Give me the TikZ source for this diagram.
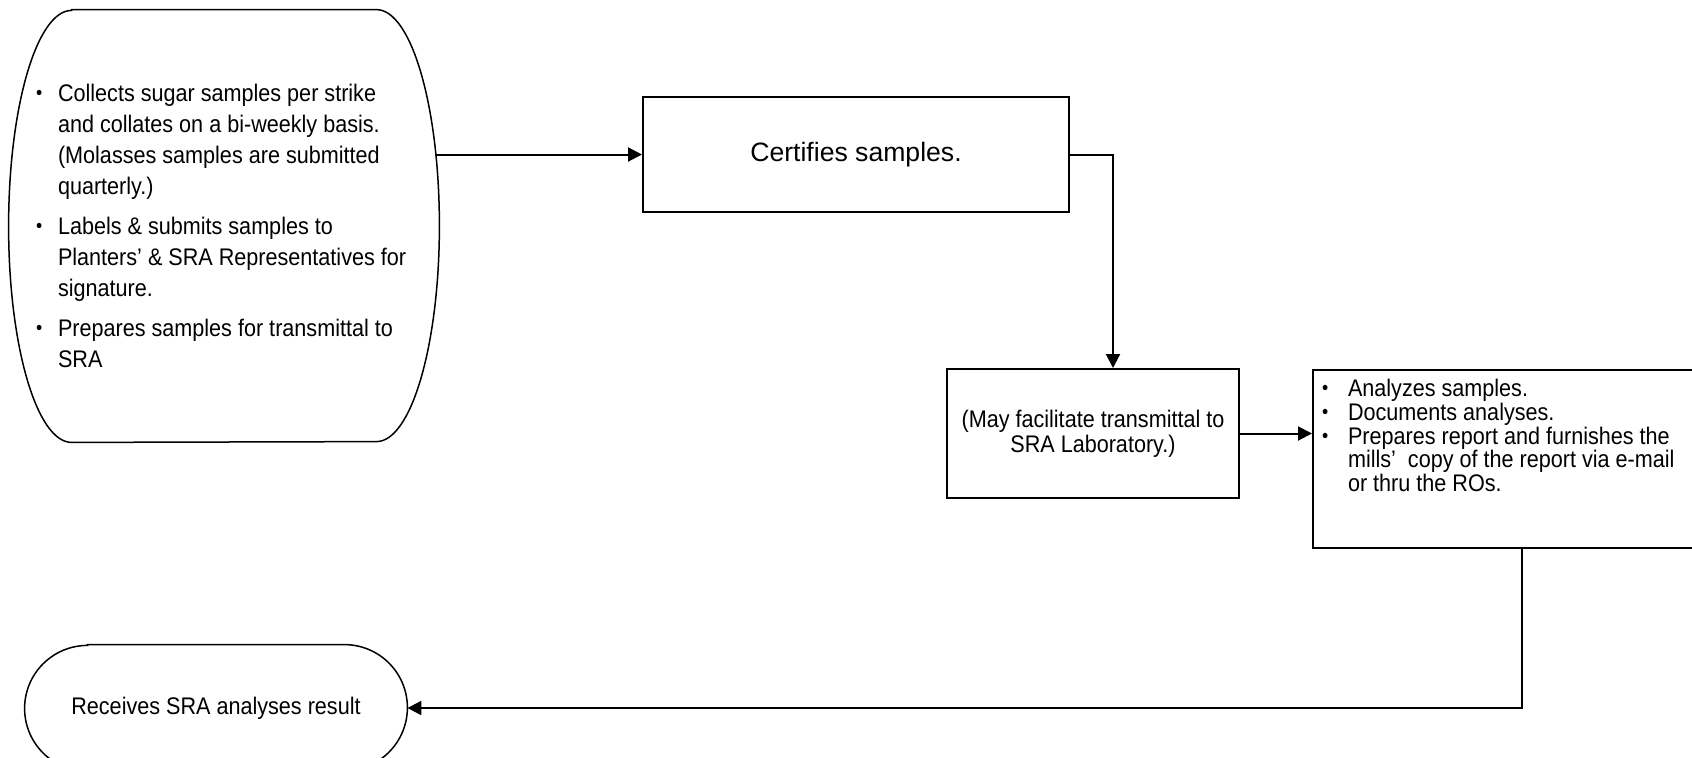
\documentclass[tikz,border=0pt]{standalone}
\usepackage{fontspec}
\usepackage{graphicx}
\setmainfont{Liberation Sans}[FakeStretch=0.9]
\newfontfamily\certfont{Liberation Sans}
\usetikzlibrary{arrows.meta}
\newcommand\smallbullet{\raisebox{0.07em}{\scalebox{0.82}{\textbullet}}}
\newcommand\bul[2]{\par\hangindent=#1\hangafter=1\noindent\makebox[#1][l]{\smallbullet}#2}
\newcommand\termoutline[3]{%
  \draw[termline] ([xshift=#2]#1.north west) -- ([xshift=-#2]#1.north east)
    arc[start angle=90,end angle=-90,x radius=#2,y radius=#3]
    -- ([xshift=#2]#1.south west)
    arc[start angle=270,end angle=90,x radius=#2,y radius=#3] -- cycle;}
\tikzset{
  termline/.style={line width=0.75pt},
  boxnode/.style={draw,line width=1pt,inner sep=0pt},
  termnode/.style={inner sep=0pt},
  arr/.style={line width=1pt,-{Triangle[length=7pt,width=7pt]}},
  txt/.style={font=\fontsize{12pt}{12.5pt}\selectfont}
}
\begin{document}
\begin{tikzpicture}[x=0.5pt,y=-0.5pt]
\useasboundingbox (0,0) rectangle (1692,757);

% left terminator with bullet list
\node[termnode,minimum width=215pt,minimum height=216pt] (ov1) at (224,226)
  {\begin{minipage}{188pt}\raggedright\fontsize{12pt}{15.5pt}\selectfont\setlength\parskip{4.5pt}%
   \bul{11pt}{Collects sugar samples per strike and collates on a bi-weekly basis. (Molasses samples are submitted quarterly.)}
   \bul{11pt}{Labels \& submits samples to Planters’ \& SRA Representatives for signature.}
   \bul{11pt}{Prepares samples for transmittal to SRA}
   \end{minipage}};
\termoutline{ov1}{31.5pt}{108pt}

% certifies box
\node[boxnode,minimum width=213pt,minimum height=57.5pt,font=\certfont\fontsize{13.3pt}{15pt}\selectfont] (box1) at (856,154.5) {Certifies samples.};

% transmittal box
\node[boxnode,minimum width=146pt,minimum height=64.5pt,txt,align=center] (box2) at (1093,433.5)
  {(May facilitate transmittal to\\SRA Laboratory.)};

% analyses box (runs off the right edge)
\node[boxnode,anchor=north west,inner sep=4.5pt] (box3) at (1312,369)
  {\begin{minipage}[c][80pt][t]{186pt}\raggedright\fontsize{12pt}{11.9pt}\selectfont
   \bul{13pt}{Analyzes samples.}
   \bul{13pt}{Documents analyses.}
   \bul{13pt}{Prepares report and furnishes the mills’~ copy of the report via e-mail or thru the ROs.}
   \end{minipage}};

% bottom terminator
\node[termnode,minimum width=191pt,minimum height=63pt,txt] (ov2) at (216,708)
  {Receives SRA analyses result};
\termoutline{ov2}{31.5pt}{31.5pt}

% connectors
\draw[arr] ([xshift=-2pt]ov1.east |- box1.west) -- (box1.west);
\draw[arr] (box1.east) -| ([xshift=10pt]box2.north);
\draw[arr] (box2.east) -- (box2.east -| box3.west);
\draw[arr] ([xshift=105pt]box3.south west) |- (ov2.east);
\end{tikzpicture}
\end{document}
